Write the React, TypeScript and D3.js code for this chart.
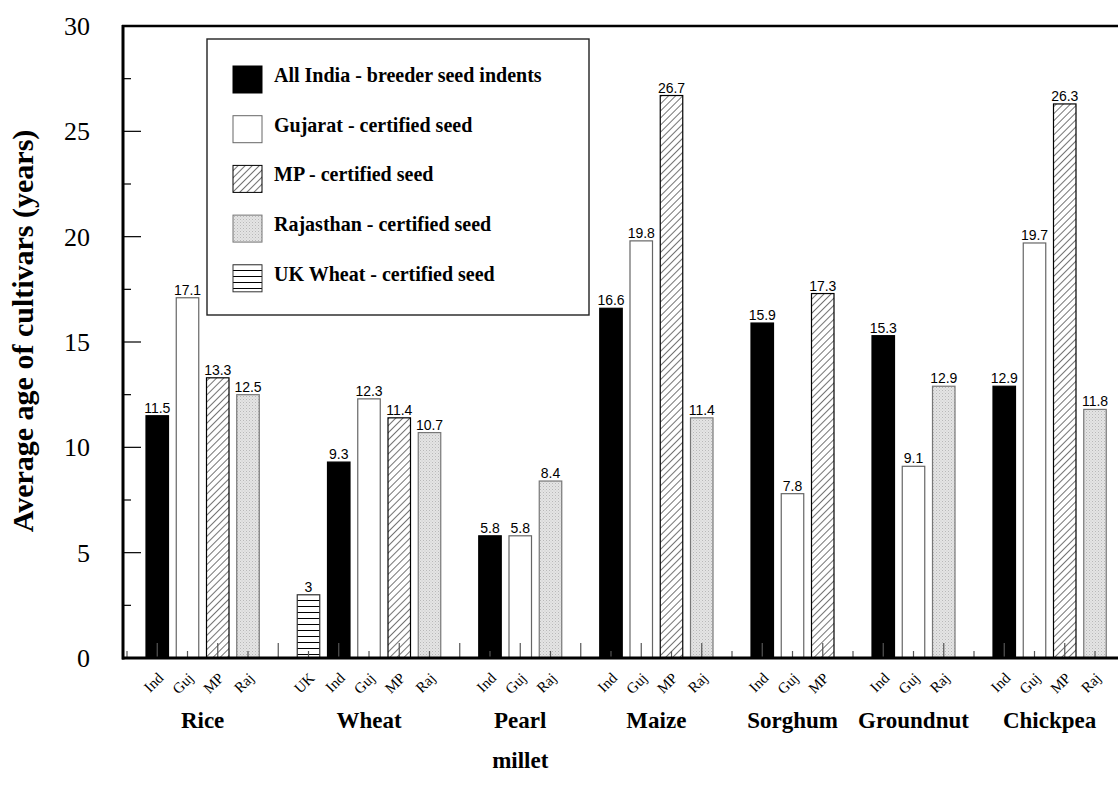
import React from 'react';
import * as d3 from 'd3';

// crops and the seed sources shown for each one
const crops = ['Rice', 'Wheat', 'Pearl millet', 'Maize', 'Sorghum', 'Groundnut', 'Chickpea'];
const cropSources = [
    ['Ind', 'Guj', 'MP', 'Raj'],
    ['UK', 'Ind', 'Guj', 'MP', 'Raj'],
    ['Ind', 'Guj', 'Raj'],
    ['Ind', 'Guj', 'MP', 'Raj'],
    ['Ind', 'Guj', 'MP'],
    ['Ind', 'Guj', 'Raj'],
    ['Ind', 'Guj', 'MP', 'Raj']
];
const cropValues = [
    [11.5, 17.1, 13.3, 12.5],
    [3, 9.3, 12.3, 11.4, 10.7],
    [5.8, 5.8, 8.4],
    [16.6, 19.8, 26.7, 11.4],
    [15.9, 7.8, 17.3],
    [15.3, 9.1, 12.9],
    [12.9, 19.7, 26.3, 11.8]
];

const legendKeys = ['Ind', 'Guj', 'MP', 'Raj', 'UK'];
const legendLabels = [
    'All India - breeder seed indents',
    'Gujarat - certified seed',
    'MP - certified seed',
    'Rajasthan - certified seed',
    'UK Wheat - certified seed'
];

const yTicks = [0, 5, 10, 15, 20, 25, 30];

const serif = '"Liberation Serif", "Times New Roman", serif';
const sans = '"Liberation Sans", Arial, sans-serif';

const fills: Record<string, string> = {
    Ind: '#000',
    Guj: '#fff',
    MP: 'url(#hatchMP)',
    Raj: 'url(#dotRaj)',
    UK: 'url(#linesUK)'
};
const strokes: Record<string, string> = {
    Ind: '#000',
    Guj: '#666',
    MP: '#000',
    Raj: '#777',
    UK: '#333'
};

export default function App()
{
    const width = 1118, height = 798;
    const left = 122, top = 26, bottom = 658, right = 1118;

    // lay bars out in slots, one empty slot between crops
    const bars: {crop: number, key: string, value: number, slot: number}[] = [];
    const cropSlots: number[][] = [];
    let slot = 0;
    crops.forEach((c, ci) =>
    {
        const s: number[] = [];
        cropSources[ci].forEach((k, i) =>
        {
            bars.push({crop: ci, key: k, value: cropValues[ci][i], slot});
            s.push(slot);
            slot++;
        });
        cropSlots.push(s);
        slot++;
    });

    const x = d3.scaleLinear().domain([0, 1]).range([157.25, 187.5]);
    const y = d3.scaleLinear().domain([0, 30]).range([bottom, top]);
    const barW = 22.5;

    const xTicks = d3.range(-1, 32);
    const yMinor = d3.range(2.5, 30, 5);

    return (
        <svg width={width} height={height} style={{display: 'block', position: 'absolute', left: 0, top: 0}}>
            <defs>
                <pattern id="hatchMP" patternUnits="userSpaceOnUse" width="5" height="5"
                         patternTransform="rotate(45)">
                    <rect width="5" height="5" fill="#fff"/>
                    <line x1="0" y1="0" x2="0" y2="5" stroke="#000" strokeWidth="1.1"/>
                </pattern>
                <pattern id="dotRaj" patternUnits="userSpaceOnUse" width="3" height="3">
                    <rect width="3" height="3" fill="#e4e4e4"/>
                    <rect width="1" height="1" fill="#b8b8b8"/>
                    <rect x="1.5" y="1.5" width="1" height="1" fill="#c8c8c8"/>
                </pattern>
                <pattern id="linesUK" patternUnits="userSpaceOnUse" width="6" height="6">
                    <rect width="6" height="6" fill="#fff"/>
                    <line x1="0" y1="0.5" x2="6" y2="0.5" stroke="#000" strokeWidth="1"/>
                </pattern>
            </defs>
            <rect width={width} height={height} fill="#fff"/>

            {bars.map((b, i) =>
                <g key={i}>
                    <rect x={x(b.slot) - barW / 2} y={y(b.value)} width={barW} height={bottom - y(b.value)}
                          fill={fills[b.key]} stroke={strokes[b.key]} strokeWidth={1.2}/>
                    <text x={x(b.slot)} y={y(b.value) - 3} textAnchor="middle" fontFamily={sans}
                          fontSize={14} fill="#000">{b.value}</text>
                    <text transform={`translate(${x(b.slot) + 7},${679}) rotate(-45)`} textAnchor="end"
                          fontFamily={serif} fontSize={15} fill="#000">{b.key}</text>
                </g>
            )}

            {/* x ticks on top of the bars */}
            {xTicks.map(t =>
                <line key={'xt' + t} x1={x(t)} x2={x(t)} y1={bottom} y2={bottom - (t % 2 === 0 ? 15 : 7)}
                      stroke="#555" strokeWidth={1.2}/>
            )}
            {yTicks.map(t =>
                <g key={'yt' + t}>
                    <line x1={left} x2={left + 19} y1={y(t)} y2={y(t)} stroke="#000" strokeWidth={1.2}/>
                    <text x={90} y={y(t) + 9} textAnchor="end" fontFamily={serif} fontSize={26}>{t}</text>
                </g>
            )}
            {yMinor.map(t =>
                <line key={'ym' + t} x1={left} x2={left + 9} y1={y(t)} y2={y(t)} stroke="#000" strokeWidth={1.2}/>
            )}

            <line x1={left} x2={right} y1={top} y2={top} stroke="#000" strokeWidth={2.5}/>
            <line x1={left} x2={right} y1={bottom} y2={bottom} stroke="#000" strokeWidth={3}/>
            <line x1={left + 1} x2={left + 1} y1={top - 1} y2={bottom + 1.5} stroke="#000" strokeWidth={3}/>

            {/* legend */}
            <rect x={207} y={39} width={382} height={276} fill="#fff" stroke="#222" strokeWidth={1.4}/>
            {legendKeys.map((k, i) =>
                <g key={'lg' + k}>
                    <rect x={233} y={66 + i * 49.7} width={29} height={27}
                          fill={fills[k]} stroke={strokes[k]} strokeWidth={1}/>
                    <text x={274} y={82 + i * 49.7} fontFamily={serif} fontWeight="bold" fontSize={20}>
                        {legendLabels[i]}
                    </text>
                </g>
            )}

            {/* crop names */}
            {crops.map((c, ci) =>
            {
                const s = cropSlots[ci];
                const cx = (x(s[0]) + x(s[s.length - 1])) / 2;
                const words = c === 'Pearl millet' ? ['Pearl', 'millet'] : [c];
                return words.map((w, wi) =>
                    <text key={c + wi} x={cx} y={728 + wi * 40} textAnchor="middle" fontFamily={serif}
                          fontWeight="bold" fontSize={23}>{w}</text>
                );
            })}

            <text transform={`translate(33,${331}) rotate(-90)`} textAnchor="middle" fontFamily={serif}
                  fontWeight="bold" fontSize={30}>Average age of cultivars (years)</text>
        </svg>
    );
}
